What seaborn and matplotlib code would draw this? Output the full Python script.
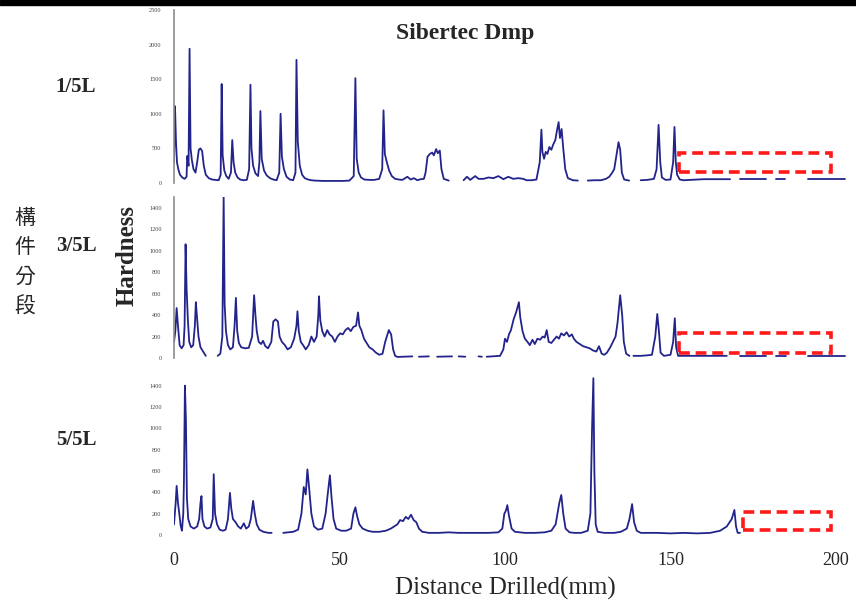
import numpy as np
import pandas as pd
import matplotlib
matplotlib.use("Agg")
import matplotlib.pyplot as plt
from matplotlib.patches import Rectangle
import seaborn as sns

# ---- data: (distance mm, hardness) ----
# GAP marks a break in the trace
GAP = (None, None)

trace_1 = [(0.0, 300), (0.3, 1110), (0.6, 600), (0.9, 300), (1.3, 200), (1.8, 120), (2.5, 80), (3.2, 60),
           (3.8, 90), (4.0, 390), (4.4, 250), (4.7, 1940), (5.0, 500), (5.4, 330), (5.9, 200), (6.5, 150),
           (7.0, 300), (7.5, 480), (8.0, 500), (8.5, 460), (9.0, 250), (9.6, 120), (10.5, 70), (11.5, 50),
           (12.5, 45), (13.5, 40), (14.1, 120), (14.4, 1430), (14.7, 400), (15.2, 180), (15.8, 100),
           (16.5, 60), (17.2, 150), (17.6, 620), (18.0, 300), (18.5, 150), (19.2, 80), (20.0, 50),
           (21.0, 40), (22.0, 45), (22.7, 200), (23.1, 1420), (23.4, 500), (23.9, 250), (24.6, 140),
           (25.4, 100), (25.8, 300), (26.1, 1040), (26.5, 350), (27.2, 180), (28.0, 110), (29.0, 70),
           (30.0, 50), (31.0, 40), (31.8, 150), (32.2, 1000), (32.6, 380), (33.2, 200), (34.0, 90),
           (35.0, 50), (36.0, 40), (36.7, 150), (37.0, 1780), (37.4, 600), (38.0, 250), (38.7, 120),
           (39.5, 70), (40.5, 50), (41.5, 40), (42.5, 35), (45.0, 30), (48.0, 30), (51.0, 30), (53.0, 35),
           (54.3, 100), (54.8, 1515), (55.2, 350), (55.8, 150), (56.5, 80), (57.5, 50), (59.0, 45),
           (60.5, 45), (62.0, 60), (62.9, 200), (63.3, 1050), (63.7, 420), (64.3, 300), (65.0, 180),
           (65.8, 100), (66.8, 60), (68.0, 50), (69.0, 45), (70.5, 90), (71.5, 50), (72.5, 70), (73.5, 40),
           (74.5, 55), (75.5, 60), (76.0, 150), (76.6, 380), (77.3, 420), (78.0, 440), (78.5, 400),
           (79.2, 490), (79.7, 430), (80.3, 470), (80.8, 200), (81.5, 60), (83.0, 35), GAP,
           (87.5, 40), (88.5, 90), (89.5, 45), (91.0, 100), (92.0, 60), (93.5, 60), (95.0, 80), (96.5, 70),
           (98.0, 100), (99.5, 55), (101.0, 90), (102.5, 60), (104.0, 70), (105.5, 60), (106.5, 40),
           (108.0, 40), (109.5, 50), (110.5, 300), (111.0, 770), (111.3, 450), (111.8, 350), (112.3, 450),
           (112.8, 420), (113.4, 520), (114.0, 480), (114.6, 560), (115.2, 620), (115.7, 760), (116.2, 880),
           (116.6, 650), (117.1, 780), (117.6, 500), (118.2, 200), (119.0, 70), (120.5, 40), (122.0, 35),
           GAP, (125.0, 35), (127.0, 40), (129.0, 40), (130.5, 60), (131.5, 90), (132.4, 150), (133.0, 200),
           (133.6, 380), (134.3, 590), (134.8, 480), (135.3, 150), (136.0, 50), (137.5, 35), GAP,
           (141.0, 40), (143.0, 45), (145.0, 60), (145.8, 200), (146.4, 840), (146.9, 300), (147.4, 80),
           (148.5, 45), (150.0, 50), (150.8, 300), (151.2, 810), (151.6, 300), (152.0, 120), (152.8, 50),
           (154.0, 40), (160.0, 55), (168.0, 55), GAP, (171.0, 55), (179.0, 55), GAP, (182.0, 55),
           (184.6, 55), GAP, (191.5, 55), (202.7, 55)]

trace_3 = [(0.0, 150), (0.4, 250), (0.8, 465), (1.2, 300), (1.7, 120), (2.3, 90), (2.9, 120), (3.2, 300),
           (3.5, 1060), (3.8, 650), (4.2, 350), (4.6, 150), (5.2, 100), (5.8, 120), (6.3, 300), (6.6, 520),
           (6.9, 400), (7.4, 200), (8.0, 100), (8.8, 60), (9.6, 20), GAP, (13.2, 20), (14.0, 40),
           (14.6, 200), (15.0, 1500), (15.3, 500), (15.7, 250), (16.3, 120), (17.0, 80), (17.8, 100),
           (18.3, 300), (18.7, 560), (19.1, 250), (19.6, 140), (20.3, 100), (21.5, 90), (22.6, 95),
           (23.6, 200), (24.2, 585), (24.6, 400), (25.0, 250), (25.6, 150), (26.3, 130), (26.9, 160),
           (27.6, 110), (28.4, 90), (29.4, 150), (30.0, 340), (30.7, 360), (31.4, 340), (31.9, 200),
           (32.6, 150), (33.5, 120), (34.3, 80), (35.3, 100), (36.3, 180), (37.0, 300), (37.3, 435),
           (37.7, 250), (38.3, 150), (39.0, 120), (39.8, 80), (40.7, 120), (41.5, 200), (42.3, 150),
           (43.1, 200), (43.6, 400), (43.8, 575), (44.2, 350), (44.8, 250), (45.5, 200), (46.3, 260),
           (47.0, 220), (47.8, 200), (48.6, 150), (49.4, 200), (50.2, 230), (51.0, 220), (51.8, 260),
           (52.6, 280), (53.4, 250), (54.2, 290), (55.0, 300), (55.6, 425), (56.0, 300), (56.6, 260),
           (57.4, 180), (58.2, 140), (59.0, 100), (60.0, 80), (61.0, 50), (62.0, 30), (63.0, 40),
           (63.8, 150), (64.9, 260), (65.6, 220), (66.2, 80), (66.8, 20), (67.5, 10), (72.0, 15), GAP,
           (74.0, 12), (77.0, 15), GAP, (79.5, 12), (84.0, 15), GAP, (86.0, 15), (88.0, 12), GAP,
           (92.0, 15), (93.0, 12), GAP, (94.5, 12), (98.5, 20), (99.5, 80), (100.0, 180), (100.6, 150),
           (101.2, 220), (101.8, 260), (102.6, 360), (103.4, 430), (104.2, 520), (104.6, 380), (105.3, 250),
           (106.0, 180), (106.8, 150), (107.5, 120), (108.3, 170), (109.0, 130), (109.8, 180), (110.6, 170),
           (111.4, 200), (112.0, 190), (112.6, 260), (113.2, 150), (114.0, 140), (114.8, 170), (115.6, 200),
           (116.3, 180), (117.0, 230), (117.8, 210), (118.6, 240), (119.4, 200), (120.2, 220), (120.8, 180),
           (121.6, 150), (122.6, 130), (123.6, 110), (124.6, 100), (125.6, 90), (126.6, 70), (127.6, 60),
           (128.4, 110), (129.2, 40), (130.0, 30), (130.8, 50), (131.8, 100), (132.6, 150), (133.4, 200),
           (134.0, 330), (134.8, 585), (135.4, 400), (135.9, 150), (136.6, 40), (137.6, 20), GAP,
           (138.8, 20), (141.0, 20), (143.0, 25), (144.4, 30), (145.4, 200), (146.0, 410), (146.5, 250),
           (147.0, 50), (148.0, 20), (150.0, 30), (150.8, 150), (151.3, 370), (151.7, 100), (152.3, 20),
           (156.0, 20), (167.0, 20), GAP, (171.0, 20), (179.0, 20), GAP, (182.0, 20), (185.0, 20), GAP,
           (191.5, 20), (202.7, 20)]

trace_5 = [(0.0, 100), (0.5, 300), (0.8, 460), (1.2, 300), (1.6, 200), (2.0, 90), (2.4, 40), (2.8, 200),
           (3.0, 500), (3.3, 1400), (3.6, 1075), (3.9, 350), (4.3, 150), (5.0, 80), (6.0, 60), (7.0, 80),
           (7.6, 150), (8.0, 300), (8.3, 365), (8.6, 150), (9.2, 80), (10.0, 60), (11.0, 70), (11.7, 150),
           (12.0, 570), (12.4, 200), (13.0, 100), (13.8, 50), (14.8, 40), (15.6, 50), (16.3, 150),
           (16.9, 395), (17.3, 250), (17.8, 150), (18.6, 120), (19.4, 80), (20.2, 60), (21.1, 110),
           (21.8, 60), (22.6, 80), (23.2, 150), (23.9, 320), (24.4, 200), (25.0, 100), (25.8, 50),
           (27.0, 30), (28.5, 20), (29.5, 20), GAP, (33.0, 20), (34.5, 25), (36.0, 30), (37.5, 50),
           (38.5, 200), (39.2, 450), (39.8, 380), (40.3, 615), (40.8, 450), (41.5, 200), (42.3, 80),
           (43.5, 50), (44.8, 60), (45.8, 200), (46.5, 400), (47.1, 560), (47.6, 350), (48.2, 150),
           (49.0, 60), (50.5, 40), (52.0, 40), (53.5, 60), (54.2, 200), (54.8, 260), (55.3, 180),
           (56.0, 100), (57.0, 60), (58.5, 40), (60.0, 30), (62.0, 30), (64.0, 40), (65.5, 60), (66.5, 80),
           (67.5, 100), (68.3, 140), (69.2, 130), (70.0, 170), (70.8, 150), (71.6, 190), (72.4, 140),
           (73.2, 120), (74.0, 60), (75.0, 30), (77.0, 20), (80.0, 20), (83.0, 25), (86.0, 20), (89.0, 20),
           (92.0, 20), (95.0, 20), (98.0, 25), (99.2, 60), (99.8, 200), (100.3, 230), (100.7, 280),
           (101.2, 180), (102.0, 60), (103.0, 30), (106.0, 20), (109.0, 20), (112.0, 25), (114.0, 40),
           (115.3, 100), (116.4, 300), (117.0, 375), (117.6, 200), (118.3, 60), (119.5, 25), (121.0, 20),
           (123.0, 20), (125.0, 40), (125.8, 200), (126.3, 1000), (126.7, 1470), (127.0, 600), (127.4, 100),
           (128.0, 30), (130.0, 20), (133.0, 20), (135.0, 30), (136.8, 60), (137.6, 150), (138.4, 290),
           (139.0, 120), (139.8, 40), (141.0, 20), (146.0, 20), (150.0, 15), (154.0, 20), (158.0, 15),
           (162.0, 20), (165.0, 40), (167.0, 80), (168.5, 150), (169.3, 235), (169.8, 80), (170.3, 20),
           (171.0, 20)]

panel_names = ["1/5L", "3/5L", "5/5L"]
y_ticks = [[0, 500, 1000, 1500, 2000, 2500],
           [0, 200, 400, 600, 800, 1000, 1200, 1400],
           [0, 200, 400, 600, 800, 1000, 1200, 1400]]
x_ticks = [0, 50, 100, 150, 200]


def to_frame(trace):
    df = pd.DataFrame(trace, columns=["dist", "hard"], dtype=float)
    df["seg"] = df["dist"].isna().cumsum()
    return df.dropna()


sns.set_theme(style="white")
plt.rcParams["font.family"] = ["Liberation Serif", "Noto Sans CJK TC", "DejaVu Sans"]

W, H = 856, 602
fig = plt.figure(figsize=(W / 100, H / 100), dpi=100)

# axes boxes in pixels: (top of y range, zero line, y max)
boxes = [(10, 183, 2500), (197, 358, 1500), (375, 535, 1500)]
traces = [trace_1, trace_3, trace_5]
x0, x_per_mm, xmax = 174, 3.31, 203
line_col = "#23238c"

axes = []
for i, ((top, zero, ymax), tr) in enumerate(zip(boxes, traces)):
    ax = fig.add_axes([x0 / W, (H - zero) / H, xmax * x_per_mm / W, (zero - top) / H])
    sns.lineplot(data=to_frame(tr), x="dist", y="hard", units="seg", estimator=None,
                 sort=False, color=line_col, lw=1.3, ax=ax)
    ax.set_xlim(0, xmax)
    ax.set_ylim(0, ymax)
    ax.set_yticks(y_ticks[i])
    ax.set_yticklabels([str(t) for t in y_ticks[i]], fontsize=4.5, color="#444444")
    ax.tick_params(axis="y", length=0, pad=9)
    ax.set_xlabel("")
    ax.set_ylabel("")
    for s in ["top", "right", "bottom"]:
        ax.spines[s].set_visible(False)
    ax.spines["left"].set_color("#8c8c8c")
    ax.spines["left"].set_linewidth(1.2)
    if i == 2:
        ax.spines["left"].set_visible(False)
        ax.set_xticks(x_ticks)
        ax.set_xticklabels([str(t) for t in x_ticks], fontsize=13)
        ax.tick_params(axis="x", length=0, pad=12)
    else:
        ax.set_xticks([])
    ax.patch.set_alpha(0)
    axes.append(ax)

# red dashed boxes marking the missing part of each trace
red_boxes = [(0, 152.7, 159, 45.8, 274), (1, 152.7, 46, 45.8, 186), (2, 172.0, 47, 26.5, 168)]
for i, bx, by, bw, bh in red_boxes:
    axes[i].add_patch(Rectangle((bx, by), bw, bh, fill=False, ec="#ff1a1a", lw=2.6,
                                ls=(0, (3, 1.6)), zorder=5))

fig.text(465 / W, 1 - 33 / H, "Sibertec Dmp", weight="bold", fontsize=17,
         ha="center", va="center")
label_y = [87, 246, 440]
for name, ly in zip(panel_names, label_y):
    fig.text(76 / W, 1 - ly / H, name, fontsize=15, weight="bold", ha="center", va="center")
fig.text(127 / W, 1 - 255 / H, "Hardness", fontsize=18, weight="bold", rotation=90,
         ha="center", va="center")
fig.text(25 / W, 1 - 262 / H, "\n".join("構件分段"), family=["Noto Sans CJK TC"],
         fontsize=15, ha="center", va="center", linespacing=1.45)
fig.text(505 / W, 1 - 588 / H, "Distance Drilled(mm)", fontsize=18, ha="center", va="center")

# black strip along the top edge
fig.patches.append(Rectangle((0, 1 - 5 / H), 1, 5 / H, transform=fig.transFigure,
                             color="black", zorder=10))

fig.savefig("out.png", dpi=100)
